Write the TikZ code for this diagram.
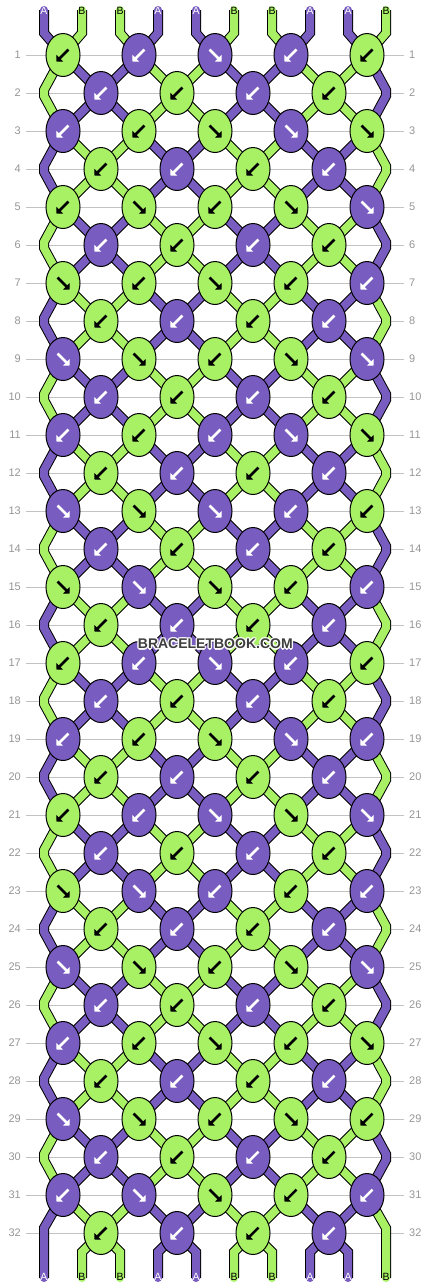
\documentclass[tikz,border=0pt]{standalone}
\usepackage{fontspec}
\setsansfont{Liberation Sans}
\usetikzlibrary{shapes.geometric,arrows.meta,calc}
\definecolor{purp}{RGB}{120,92,192}
\definecolor{grn}{RGB}{168,240,100}
\definecolor{rowgray}{RGB}{195,195,195}
\definecolor{numgray}{RGB}{150,150,150}
\definecolor{wmark}{RGB}{62,62,62}
\pgfdeclarelayer{back}
\pgfdeclarelayer{mid}
\pgfsetlayers{back,mid,main}
\tikzset{
  knot/.style={ellipse, draw=black, line width=1pt, minimum width=34pt, minimum height=43pt, inner sep=0pt},
  arr/.style={line width=2.5pt, -{Triangle[length=4.6pt,width=9.5pt]}},
  aL/.style={path picture={\draw[arr,#1] ([shift={(5.5pt,5.5pt)}]path picture bounding box.center) -- ([shift={(-6.5pt,-6.5pt)}]path picture bounding box.center);}},
  aR/.style={path picture={\draw[arr,#1] ([shift={(-5.5pt,5.5pt)}]path picture bounding box.center) -- ([shift={(6.5pt,-6.5pt)}]path picture bounding box.center);}},
  pL/.style={knot, fill=purp, aL=white},
  pR/.style={knot, fill=purp, aR=white},
  gL/.style={knot, fill=grn, aL=black},
  gR/.style={knot, fill=grn, aR=black},
  strA/.style={draw=purp, line width=8pt, preaction={draw=black, line width=10pt}},
  strB/.style={draw=grn, line width=8pt, preaction={draw=black, line width=10pt}},
  rowline/.style={draw=rowgray, line width=1pt},
  rownum/.style={font=\sffamily\fontsize{11}{11}\selectfont, text=numgray, inner sep=0pt},
  lblA/.style={font=\sffamily\fontsize{10.5}{10.5}\selectfont, text=white, inner sep=0pt},
  lblB/.style={font=\sffamily\fontsize{10.5}{10.5}\selectfont, text=black, inner sep=0pt},
  wm/.style={font=\sffamily\bfseries\fontsize{14}{14}\selectfont, inner sep=0pt},
}
\begin{document}
\begin{tikzpicture}[x=1pt,y=-1pt]
\begin{pgfonlayer}{back}
\fill[white] (0,0) rectangle (430,1288);
\end{pgfonlayer}
\useasboundingbox (0,0) rectangle (430,1288);

% row guide lines and numbers
\foreach \r in {1,...,32}{
  \pgfmathsetmacro\yy{55+38*(\r-1)}
  \coordinate (rl-\r) at (26,\yy);
  \coordinate (rr-\r) at (404,\yy);
  \begin{pgfonlayer}{back}
    \draw[rowline] (rl-\r) -- (rr-\r);
    \node[rownum, anchor=east] (nl-\r) at (21,\yy) {\r};
    \node[rownum, anchor=west] (nr-\r) at (409,\yy) {\r};
  \end{pgfonlayer}
}

% knots, odd rows
\foreach \r/\ks in {
  1/{gL,pL,pR,pL,gL},
  3/{pL,gL,gR,pR,gR},
  5/{gL,gR,gL,gR,pR},
  7/{gR,gL,gR,gL,pL},
  9/{pR,gR,gL,gR,pR},
  11/{pL,gL,pL,pR,gR},
  13/{pR,gR,pR,pL,gL},
  15/{gR,pR,gR,gL,pL},
  17/{gL,pL,pR,pL,gL},
  19/{pL,gL,gR,pR,pL},
  21/{gL,pL,pR,gR,pR},
  23/{gR,pR,pL,gL,pL},
  25/{pR,gR,gL,gR,pR},
  27/{pL,gL,gR,gL,gR},
  29/{pR,gR,gL,gR,gL},
  31/{pL,pR,gR,gL,pL}}{
  \foreach \t [count=\k from 0] in \ks {
    \node[\t] (k-\r-\k) at ({63+76*\k},{55+38*(\r-1)}) {};
  }
}
% knots, even rows
\foreach \r in {2,6,...,30}{
  \foreach \t [count=\k from 0] in {pL,gL,pL,gL} {
    \node[\t] (k-\r-\k) at ({101+76*\k},{55+38*(\r-1)}) {};
  }
}
\foreach \r in {4,8,...,32}{
  \foreach \t [count=\k from 0] in {gL,pL,gL,pL} {
    \node[\t] (k-\r-\k) at ({101+76*\k},{55+38*(\r-1)}) {};
  }
}
% edge turning points on even rows
\foreach \r in {2,4,...,30}{
  \pgfmathsetmacro\yy{55+38*(\r-1)}
  \coordinate (el-\r-a) at (44,\yy-3);
  \coordinate (el-\r-b) at (44,\yy+3);
  \coordinate (er-\r-a) at (386,\yy-3);
  \coordinate (er-\r-b) at (386,\yy+3);
}

\begin{pgfonlayer}{mid}
% top strings
\foreach \p/\s/\k in {0/A/0,1/B/0,2/B/1,3/A/1,4/A/2,5/B/2,6/B/3,7/A/3,8/A/4,9/B/4}{
  \coordinate (t-\p-a) at ({44+38*\p},10);
  \coordinate (t-\p-b) at ({44+38*\p},33);
  \draw[str\s, line cap=round] (t-\p-a) -- (t-\p-b) -- (k-1-\k.center);
  \node[lbl\s] (tl-\p) at ({44+38*\p},11) {\s};
}
% strings between rows
\foreach \r in {1,...,31}{
  \pgfmathtruncatemacro\m{mod(\r,4)}
  \pgfmathtruncatemacro\n{\r+1}
  \pgfmathtruncatemacro\nn{\r+2}
  \ifnum\m=1 \def\cx{strA}\def\cy{strB}\else
    \ifnum\m=2 \def\cx{strA}\def\cy{strB}\else
      \def\cx{strB}\def\cy{strA}\fi\fi
  \ifodd\r\relax
    \draw[\cx] (k-\r-0.center) -- (k-\n-0.center);
    \draw[\cx] (k-\r-1.center) -- (k-\n-0.center);
    \draw[\cx] (k-\r-2.center) -- (k-\n-2.center);
    \draw[\cx] (k-\r-3.center) -- (k-\n-2.center);
    \draw[\cy] (k-\r-1.center) -- (k-\n-1.center);
    \draw[\cy] (k-\r-2.center) -- (k-\n-1.center);
    \draw[\cy] (k-\r-3.center) -- (k-\n-3.center);
    \draw[\cy] (k-\r-4.center) -- (k-\n-3.center);
    \ifnum\r<31
      \draw[\cy] (k-\r-0.center) -- (el-\n-a) -- (el-\n-b) -- (k-\nn-0.center);
      \draw[\cx] (k-\r-4.center) -- (er-\n-a) -- (er-\n-b) -- (k-\nn-4.center);
    \fi
  \else
    \draw[\cx] (k-\r-0.center) -- (k-\n-0.center);
    \draw[\cx] (k-\r-0.center) -- (k-\n-1.center);
    \draw[\cy] (k-\r-1.center) -- (k-\n-1.center);
    \draw[\cy] (k-\r-1.center) -- (k-\n-2.center);
    \draw[\cx] (k-\r-2.center) -- (k-\n-2.center);
    \draw[\cx] (k-\r-2.center) -- (k-\n-3.center);
    \draw[\cy] (k-\r-3.center) -- (k-\n-3.center);
    \draw[\cy] (k-\r-3.center) -- (k-\n-4.center);
  \fi
}
% bottom strings
\coordinate (bl-a) at (44,1228);
\coordinate (bl-b) at (44,1278);
\coordinate (br-a) at (386,1228);
\coordinate (br-b) at (386,1278);
\draw[strA, line cap=round] (k-31-0.center) -- (bl-a) -- (bl-b);
\draw[strB, line cap=round] (k-31-4.center) -- (br-a) -- (br-b);
\foreach \p/\s/\k in {1/B/0,2/B/0,3/A/1,4/A/1,5/B/2,6/B/2,7/A/3,8/A/3}{
  \coordinate (b-\p-a) at ({44+38*\p},1252);
  \coordinate (b-\p-b) at ({44+38*\p},1278);
  \draw[str\s, line cap=round] (k-32-\k.center) -- (b-\p-a) -- (b-\p-b);
}
\foreach \p/\s in {0/A,1/B,2/B,3/A,4/A,5/B,6/B,7/A,8/A,9/B}{
  \node[lbl\s] (bt-\p) at ({44+38*\p},1277) {\s};
}
\end{pgfonlayer}

% watermark
\foreach \dx/\dy [count=\i] in {1.3/0,-1.3/0,0/1.3,0/-1.3,1/1,1/-1,-1/1,-1/-1}{
  \node[wm, text=white, opacity=0.85] (wh-\i) at (215.3+\dx,644+\dy) {BRACELETBOOK.COM};
}
\node[wm, text=wmark] (wmk) at (215.3,644) {BRACELETBOOK.COM};
\end{tikzpicture}
\end{document}
